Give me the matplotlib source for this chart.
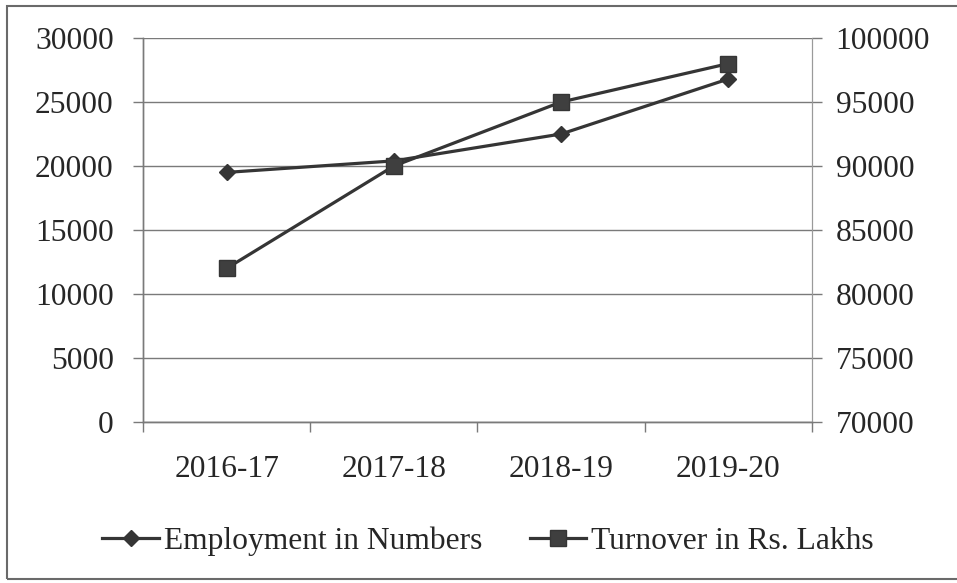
import matplotlib
matplotlib.use("Agg")
import matplotlib.pyplot as plt
from matplotlib.patches import Rectangle

years = ["2016-17", "2017-18", "2018-19", "2019-20"]
employment = [19500, 20400, 22500, 26800]
turnover = [82000, 90000, 95000, 98000]

left_ticks = [0, 5000, 10000, 15000, 20000, 25000, 30000]
right_ticks = [70000, 75000, 80000, 85000, 90000, 95000, 100000]

plt.rcParams["font.family"] = ["Liberation Serif", "DejaVu Serif"]
plt.rcParams["font.size"] = 22.7

line_c = "#353535"
grid_c = "#7a7a7a"
text_c = "#262626"

fig = plt.figure(figsize=(9.57, 5.83), dpi=100)
ax = fig.add_axes([0.1494, 0.2762, 0.6991, 0.6586])
ax2 = ax.twinx()

x = range(len(years))

# gridlines follow the left axis
for v in left_ticks:
    ax.axhline(v, color=grid_c, lw=1.0, zorder=1)

l1, = ax.plot(x, employment, color=line_c, lw=2.3, marker="D", ms=8.5,
              mfc=line_c, mec=line_c, zorder=3, label="Employment in Numbers")
l2, = ax2.plot(x, turnover, color=line_c, lw=2.3, marker="s", ms=12,
               mfc="#3f3f3f", mec=line_c, zorder=3, label="Turnover in Rs. Lakhs")

ax.set_xlim(-0.5, 3.5)
ax.set_ylim(0, 30000)
ax2.set_ylim(70000, 100000)

ax.set_yticks(left_ticks)
ax2.set_yticks(right_ticks)
ax.set_xticks([-0.5, 0.5, 1.5, 2.5, 3.5], minor=False)
ax.set_xticklabels([])
ax.set_xticks(list(x), minor=True)
ax.set_xticklabels(years, minor=True)

ax.tick_params(axis="x", which="major", direction="out", length=7,
               color=grid_c, width=1)
ax.tick_params(axis="x", which="minor", length=0, pad=24, colors=text_c)
ax.tick_params(axis="y", direction="out", length=7, color=grid_c, width=1,
               pad=14, labelcolor=text_c)
ax2.tick_params(axis="y", direction="out", length=7, color=grid_c, width=1,
                pad=10, labelcolor=text_c)

for a in (ax, ax2):
    a.spines["top"].set_visible(False)
    a.spines["left"].set_color(grid_c)
    a.spines["right"].set_color("#9a9a9a")
    a.spines["bottom"].set_color(grid_c)
    a.spines["left"].set_linewidth(1)
    a.spines["right"].set_linewidth(0.8)
    a.spines["bottom"].set_linewidth(1)

leg = fig.legend(handles=[l1, l2], loc="center", bbox_to_anchor=(0.51, 0.072),
                 ncol=2, frameon=False, handlelength=1.8, handletextpad=0.15,
                 columnspacing=1.5, fontsize=22.7)
for t in leg.get_texts():
    t.set_color(text_c)

# outer frame of the chart
fig.patches.append(Rectangle((0.0075, 0.007), 1.1, 0.982, transform=fig.transFigure,
                             fill=False, ec="#6a6a6a", lw=1.5))

fig.savefig("out.png", dpi=100)
